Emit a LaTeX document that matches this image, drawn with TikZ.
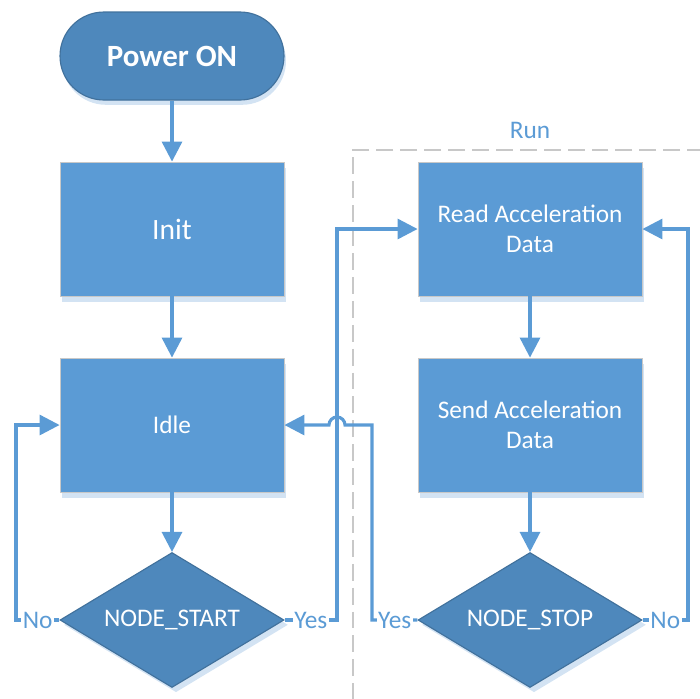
\documentclass[tikz,border=0pt]{standalone}
\usepackage{fontspec}
\setmainfont{Carlito}
\usetikzlibrary{arrows.meta,shapes.geometric,shadows}
\definecolor{runblue}{HTML}{5B9BD5}
\definecolor{rundark}{HTML}{4E88BC}
\definecolor{runedge}{HTML}{41719C}
\definecolor{runshade}{HTML}{D3E3F3}
\definecolor{runframe}{HTML}{C8C8C8}

\begin{document}
\begin{tikzpicture}[font=\fontsize{18}{20}\selectfont, >={Triangle[length=0.5cm,width=0.5cm]}]
  \tikzset{
    stepbox/.style={draw=runframe, line width=0.6pt, fill=runblue, text=white, minimum width=5.6cm, minimum height=3.35cm, align=center,
      drop shadow={shadow xshift=0.04cm, shadow yshift=-0.15cm, fill=runshade, opacity=1}},
    choice/.style={diamond, shape aspect=1.66, draw=runedge, line width=0.8pt, fill=rundark, text=white, inner sep=0pt, minimum width=5.6cm, minimum height=3.375cm,
      drop shadow={shadow xshift=0.1cm, shadow yshift=-0.12cm, fill=runshade, opacity=1}},
    flow/.style={draw=runblue, line width=2.2pt},
    answer/.style={fill=white, text=runblue, inner sep=1pt}
  }
  \useasboundingbox (0,0) rectangle (17.5,-17.45);

  % run frame
  \draw[runframe, line width=1.5pt, dash pattern=on 12pt off 5pt] (17.6,-3.75) -- (8.825,-3.75) -- (8.825,-17.6);
  \node[text=runblue] (run) at (13.25,-3.25) {Run};

  \node[draw=runedge, line width=0.8pt, fill=rundark, text=white, rounded corners=1.1cm, minimum width=5.6cm, minimum height=2.2cm,
    drop shadow={shadow xshift=0.05cm, shadow yshift=-0.12cm, fill=runshade, opacity=1}] (power) at (4.3,-1.4)
    {\fontsize{22}{24}\selectfont\bfseries Power ON};
  \node[stepbox] (init) at (4.3,-5.725) {\fontsize{21}{24}\selectfont Init};
  \node[stepbox] (idle) at (4.3,-10.625) {Idle};
  \node[choice] (start) at (4.3,-15.5) {NODE\_START};
  \node[stepbox] (read) at (13.25,-5.725) {Read Acceleration\\[1pt]Data};
  \node[stepbox] (send) at (13.25,-10.625) {Send Acceleration\\[1pt]Data};
  \node[choice] (stop) at (13.25,-15.5) {NODE\_STOP};

  \coordinate (noleft) at (0.4,-15.5);
  \coordinate (yesleft) at (8.425,-15.5);
  \coordinate (yesright) at (9.3,-15.5);
  \coordinate (noright) at (17.2,-15.5);
  \coordinate (hop) at (8.425,-10.625);

  \draw[flow, ->] (power) -- (init);
  \draw[flow, ->] (init) -- (idle);
  \draw[flow, ->] (idle) -- (start);
  \draw[flow, ->] (read) -- (send);
  \draw[flow, ->] (send) -- (stop);
  \draw[flow, ->] (start.west) -- node[answer] {No} (noleft) -- (noleft |- idle.west) -- (idle.west);
  \draw[flow, ->] (start.east) -- node[answer] {Yes} (yesleft) -- (yesleft |- read.west) -- (read.west);
  \draw[flow, ->] (stop.west) -- node[answer] {Yes} (yesright) -- (yesright |- idle.east) -- ([xshift=0.2cm]hop)
    arc[start angle=0, end angle=180, radius=0.2cm] -- (idle.east);
  \draw[flow, ->] (stop.east) -- node[answer] {No} (noright) -- (noright |- read.east) -- (read.east);
\end{tikzpicture}
\end{document}
